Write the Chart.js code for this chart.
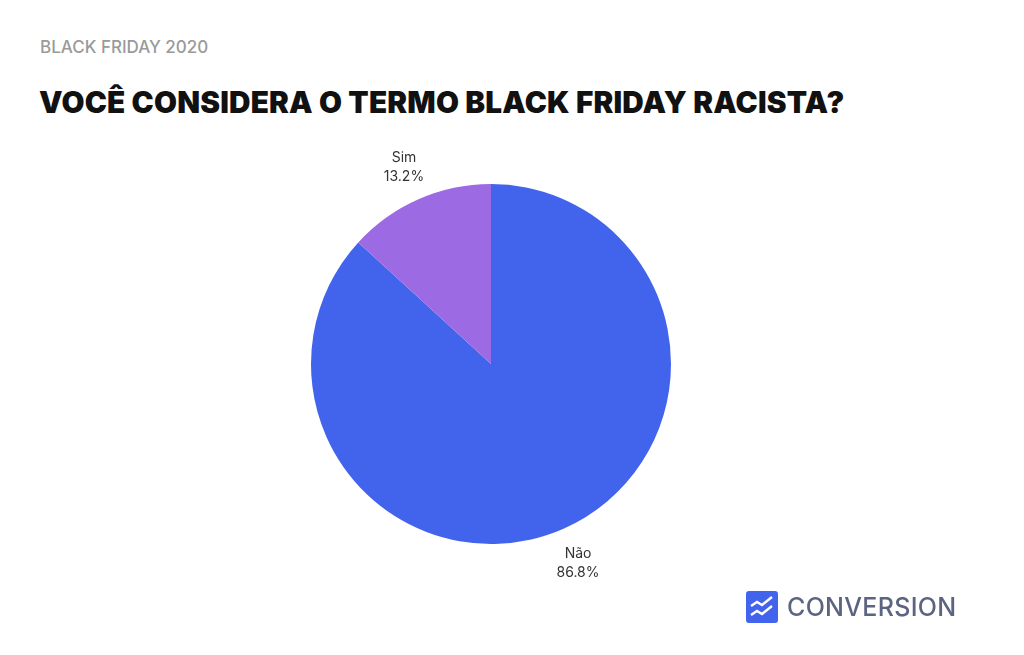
<!DOCTYPE html>
<html><head><meta charset="utf-8">
<script src="https://cdn.jsdelivr.net/npm/chart.js@4.4.0/dist/chart.umd.min.js"></script>
<style>
  body { margin:0; width:1024px; height:655px; background:#fff; position:relative; overflow:hidden; font-family:Inter, 'Open Sans', sans-serif; }
  .sup { position:absolute; left:40px; top:37px; font-size:17px; color:#9a9a9a; font-weight:500; }
  .title { position:absolute; left:39px; top:84px; font-size:29.7px; font-weight:900; color:#111; letter-spacing:0.2px; }
  .wrap { position:absolute; left:0; top:130px; width:982px; height:470px; }
  .logo { position:absolute; left:746px; top:591px; display:flex; align-items:center; gap:9px; }
  .logo span { font-size:25px; color:#5b6480; font-weight:500; letter-spacing:0.3px; }
</style></head><body>
<div class="sup">BLACK FRIDAY 2020</div>
<div class="title">VOCÊ CONSIDERA O TERMO BLACK FRIDAY RACISTA?</div>
<div class="wrap"><canvas id="c"></canvas></div>
<div class="logo">
  <svg width="32" height="32" viewBox="0 0 32 32"><rect width="32" height="32" rx="3" fill="#4263eb"/>
    <polyline points="5,15 11,11 16,14 26,6" fill="none" stroke="#fff" stroke-width="2.4"/>
    <polyline points="5,24 11,20 16,23 26,15" fill="none" stroke="#fff" stroke-width="2.4"/></svg>
  <span>CONVERSION</span>
</div>
<script>
const labels = ['Não', 'Sim'];
const values = [86.8, 13.2];
const colors = ['#4263eb', '#9c6ae3'];

const outLabels = {
  id: 'outLabels',
  afterDatasetsDraw(chart) {
    const ctx = chart.ctx;
    const meta = chart.getDatasetMeta(0);
    ctx.save();
    ctx.font = '14px Inter, sans-serif';
    ctx.fillStyle = '#333';
    ctx.textAlign = 'center';
    meta.data.forEach((arc, i) => {
      const a = (arc.startAngle + arc.endAngle) / 2;
      const r = arc.outerRadius + 36;
      const x = arc.x + Math.cos(a) * r, y = arc.y + Math.sin(a) * r;
      ctx.fillText(labels[i], x, y - 4);
      ctx.fillText(values[i].toFixed(1) + '%', x, y + 15);
    });
    ctx.restore();
  }
};

new Chart(document.getElementById('c'), {
  type: 'pie',
  data: { labels, datasets: [{ data: values, backgroundColor: colors, borderWidth: 0 }] },
  options: {
    responsive: true, maintainAspectRatio: false, animation: false,
    layout: { padding: { top: 54, bottom: 56 } },
    plugins: { legend: { display: false }, tooltip: { enabled: false } }
  },
  plugins: [outLabels]
});
</script>
</body></html>
